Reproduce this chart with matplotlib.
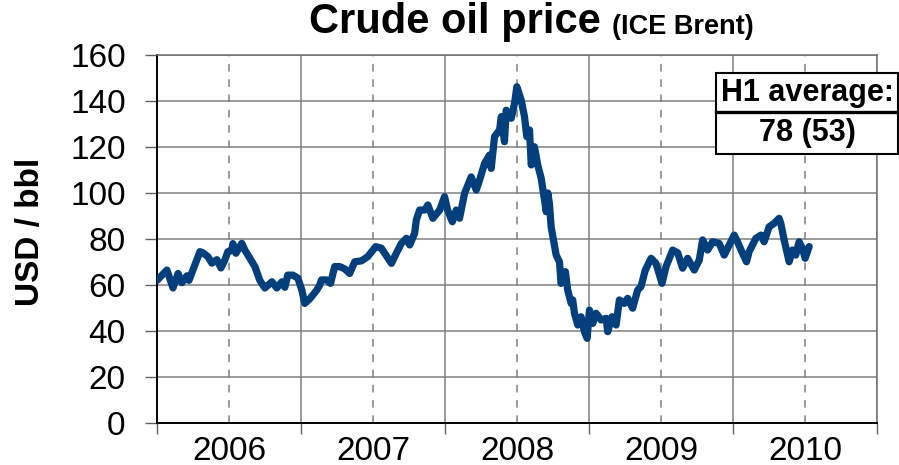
import matplotlib
matplotlib.use('Agg')
import matplotlib.pyplot as plt
from matplotlib.patches import Rectangle
from matplotlib.lines import Line2D

plt.rcParams['font.family'] = ['Liberation Sans', 'DejaVu Sans']

# decimal year and Brent price (USD/bbl)
years = [2006.000, 2006.069, 2006.111, 2006.146, 2006.173, 2006.208, 2006.222, 2006.298,
         2006.319, 2006.354, 2006.381, 2006.416, 2006.444, 2006.472, 2006.492, 2006.520,
         2006.527, 2006.548, 2006.589, 2006.610, 2006.645, 2006.680, 2006.714, 2006.749,
         2006.798, 2006.832, 2006.867, 2006.888, 2006.908, 2006.943, 2006.978, 2007.006,
         2007.026, 2007.061, 2007.110, 2007.130, 2007.142, 2007.177, 2007.205, 2007.234,
         2007.269, 2007.304, 2007.338, 2007.373, 2007.420, 2007.463, 2007.519, 2007.558,
         2007.628, 2007.662, 2007.697, 2007.732, 2007.755, 2007.789, 2007.801, 2007.824,
         2007.859, 2007.881, 2007.916, 2007.963, 2007.997, 2008.018, 2008.051, 2008.078,
         2008.101, 2008.136, 2008.182, 2008.217, 2008.240, 2008.275, 2008.309, 2008.321,
         2008.344, 2008.379, 2008.391, 2008.413, 2008.425, 2008.460, 2008.483, 2008.499,
         2008.529, 2008.552, 2008.568, 2008.587, 2008.599, 2008.621, 2008.644, 2008.668,
         2008.691, 2008.703, 2008.714, 2008.726, 2008.737, 2008.772, 2008.795, 2008.806,
         2008.836, 2008.852, 2008.876, 2008.887, 2008.899, 2008.922, 2008.945, 2008.968,
         2008.987, 2009.003, 2009.026, 2009.049, 2009.084, 2009.119, 2009.130, 2009.160,
         2009.188, 2009.211, 2009.245, 2009.268, 2009.303, 2009.338, 2009.361, 2009.391,
         2009.431, 2009.465, 2009.507, 2009.535, 2009.581, 2009.616, 2009.650, 2009.685,
         2009.731, 2009.766, 2009.789, 2009.824, 2009.858, 2009.904, 2009.939, 2009.974,
         2010.008, 2010.031, 2010.066, 2010.094, 2010.112, 2010.159, 2010.194, 2010.216,
         2010.251, 2010.286, 2010.320, 2010.332, 2010.355, 2010.390, 2010.413, 2010.436,
         2010.459, 2010.482, 2010.501, 2010.529]
price = [62.0, 66.5, 58.7, 65.0, 61.0, 64.0, 62.0, 74.5,
         74.0, 72.3, 69.5, 71.0, 67.4, 71.0, 74.5, 75.0,
         78.0, 73.8, 78.1, 75.2, 71.6, 68.0, 62.0, 58.7,
         61.4, 58.7, 61.4, 59.0, 64.3, 64.3, 63.0, 57.8,
         52.0, 54.0, 57.8, 60.0, 62.2, 62.2, 60.7, 68.0,
         68.0, 67.0, 65.0, 70.1, 70.5, 72.3, 76.7, 76.0,
         69.4, 73.8, 78.1, 80.3, 77.4, 82.5, 88.3, 92.6,
         92.6, 94.8, 89.0, 92.6, 98.4, 92.6, 87.5, 92.6,
         89.0, 99.9, 107.0, 101.3, 105.6, 112.9, 116.5, 110.7,
         124.5, 127.4, 133.2, 122.3, 136.0, 132.5, 139.0, 146.2,
         140.4, 133.2, 124.5, 127.4, 112.2, 120.1, 112.2, 106.4,
         97.0, 91.9, 100.0, 95.0, 85.3, 73.0, 70.0, 60.7,
         65.8, 57.8, 52.0, 53.5, 47.7, 42.6, 46.2, 39.7,
         36.8, 49.1, 43.3, 47.7, 44.8, 45.5, 39.7, 46.2,
         42.6, 53.5, 52.0, 54.2, 49.9, 57.8, 59.3, 66.5,
         71.6, 69.4, 60.7, 68.0, 75.2, 74.0, 67.3, 71.6,
         66.5, 70.9, 79.6, 75.2, 78.8, 78.1, 73.0, 77.4,
         81.7, 78.8, 73.8, 70.1, 74.5, 80.3, 81.7, 78.8,
         85.3, 86.8, 89.0, 86.8, 79.6, 70.1, 75.2, 73.0,
         78.8, 75.9, 71.6, 76.7]

year_labels = ['2006', '2007', '2008', '2009', '2010']
year_edges = [2006, 2007, 2008, 2009, 2010, 2011]
y_ticks = [0, 20, 40, 60, 80, 100, 120, 140, 160]

W, H = 899, 465
fig = plt.figure(figsize=(W / 100, H / 100), dpi=100)
ax = fig.add_axes([157 / W, 42 / H, 720 / W, 368 / H])

ax.plot(years, price, color='#033E7D', lw=5.2, solid_joinstyle='round',
        solid_capstyle='round', zorder=3)

ax.set_xlim(2006, 2011)
ax.set_ylim(0, 160)
ax.set_xticks(year_edges)
ax.set_xticklabels([])
ax.set_xticks([y + 0.5 for y in year_edges[:-1]], minor=True)
ax.set_xticklabels(year_labels, minor=True, fontsize=24)
ax.tick_params(axis='x', which='major', length=8, width=1, color='#606060', direction='out')
ax.tick_params(axis='x', which='minor', length=0, pad=9)
ax.set_yticks(y_ticks)
ax.set_yticklabels([str(v) for v in y_ticks])
ax.tick_params(axis='y', length=8.5, width=1, color='#606060', pad=14, labelsize=24)

ax.grid(axis='y', color='#808080', lw=1.1)
ax.grid(axis='x', which='major', color='#808080', lw=1.1)
ax.grid(axis='x', which='minor', color='#808080', lw=1.1, linestyle=(0, (5, 5)))
ax.set_axisbelow(True)

for s in ['left', 'bottom']:
    ax.spines[s].set_color('black')
    ax.spines[s].set_linewidth(1.4)
for s in ['top', 'right']:
    ax.spines[s].set_color('#707070')
    ax.spines[s].set_linewidth(1.1)

fig.text(30.5 / W, 1 - 231.5 / H, 'USD / bbl', rotation=90, ha='center', va='center',
         fontsize=24, fontweight='bold')

# Title in two parts, centred as a group
fig.canvas.draw()
r = fig.canvas.get_renderer()
t1 = fig.text(0, 1 - 33 / H, 'Crude oil price', fontsize=30, fontweight='bold', va='baseline')
t2 = fig.text(0, 1 - 34 / H, '(ICE Brent)', fontsize=19.5, fontweight='bold', va='baseline')
w1 = t1.get_window_extent(r).width
w2 = t2.get_window_extent(r).width
gap = 11
start = 531 - (w1 + gap + w2) / 2
t1.set_x(start / W)
t2.set_x((start + w1 + gap) / W)

# H1 average box
bx0, bx1, by_top, by_mid, by_bot = 716, 898, 73, 112, 154
fig.patches.append(Rectangle((bx0 / W, 1 - by_bot / H), (bx1 - bx0) / W, (by_bot - by_top) / H,
                             transform=fig.transFigure, facecolor='white', edgecolor='black',
                             lw=1.5, zorder=5))
fig.lines.append(Line2D([bx0 / W, bx1 / W], [1 - by_mid / H, 1 - by_mid / H],
                        transform=fig.transFigure, color='black', lw=2.4, zorder=6))
fig.text((bx0 + bx1) / 2 / W, 1 - (by_top + by_mid) / 2 / H, 'H1 average:', ha='center',
         va='center', fontsize=22, fontweight='bold', zorder=7)
fig.text((bx0 + bx1) / 2 / W, 1 - (by_mid + by_bot) / 2 / H, '78 (53)', ha='center',
         va='center', fontsize=22, fontweight='bold', zorder=7)

fig.savefig('out.png', dpi=100)
